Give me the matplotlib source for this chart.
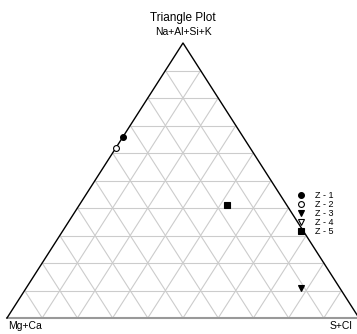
import matplotlib
matplotlib.use("Agg")
import matplotlib.pyplot as plt
import numpy as np

plt.rcParams['font.family'] = ['Liberation Sans', 'DejaVu Sans']

title = "Triangle Plot"
top_label = "Na+Al+Si+K"
left_label = "Mg+Ca"
right_label = "S+Cl"

series_labels = ["Z - 1", "Z - 2", "Z - 3", "Z - 4", "Z - 5"]
# ternary fractions (top, left, right)
top_vals = [[0.66], [0.62], [0.11], [], [0.41]]
left_vals = [[0.34], [0.38], [0.11], [], [0.17]]
right_vals = [[0.00], [0.00], [0.78], [], [0.42]]

markers = ['o', 'o', 'v', 'v', 's']
fills = ['black', 'white', 'black', 'white', 'black']

def to_xy(t, l, r):
    t = np.asarray(t, float); l = np.asarray(l, float); r = np.asarray(r, float)
    s = t + l + r
    s = np.where(s == 0, 1, s)
    t, r = t / s, r / s
    return r + t / 2, t

W, H = 357, 334
fig = plt.figure(figsize=(W / 100, H / 100), dpi=100)
ax = fig.add_axes([7 / W, (H - 318) / H, 352 / W, 275 / H])
ax.set_xlim(0, 1)
ax.set_ylim(0, 1)
ax.axis('off')

grid_c = '#cccccc'
for k in range(1, 10):
    f = k / 10
    ax.plot([f / 2, 1 - f / 2], [f, f], color=grid_c, lw=0.8, zorder=1)
    ax.plot([f, f + (1 - f) / 2], [0, 1 - f], color=grid_c, lw=0.8, zorder=1)
    ax.plot([1 - f, (1 - f) / 2], [0, 1 - f], color=grid_c, lw=0.8, zorder=1)

ax.plot([0, 1], [0, 0], color='#999999', lw=1.5, zorder=2, clip_on=False)
ax.plot([0, 0.5, 1], [0, 1, 0], color='black', lw=1.0, zorder=2, clip_on=False)

handles = []
for lab, t, l, r, m, fc in zip(series_labels, top_vals, left_vals, right_vals, markers, fills):
    x, y = to_xy(t, l, r)
    h, = ax.plot(x, y, linestyle='none', marker=m, markersize=4.2,
                 markerfacecolor=fc, markeredgecolor='black', markeredgewidth=0.8,
                 label=lab, zorder=3, clip_on=False)
    handles.append(h)

fig.text(183 / W, 1 - 18 / H, title, ha='center', va='center', fontsize=8.5)
fig.text(183 / W, 1 - 32 / H, top_label, ha='center', va='center', fontsize=7.5)
fig.text(8 / W, 1 - 326 / H, left_label, ha='left', va='center', fontsize=7.5)
fig.text(352 / W, 1 - 326 / H, right_label, ha='right', va='center', fontsize=7.5)

fig.legend(handles=handles, loc='upper left', bbox_to_anchor=(296 / W, 1 - 191 / H),
           frameon=False, fontsize=6.5, handlelength=1.0, handletextpad=1.1,
           labelspacing=0.0, borderpad=0, borderaxespad=0)

fig.savefig('out.png', dpi=100)
